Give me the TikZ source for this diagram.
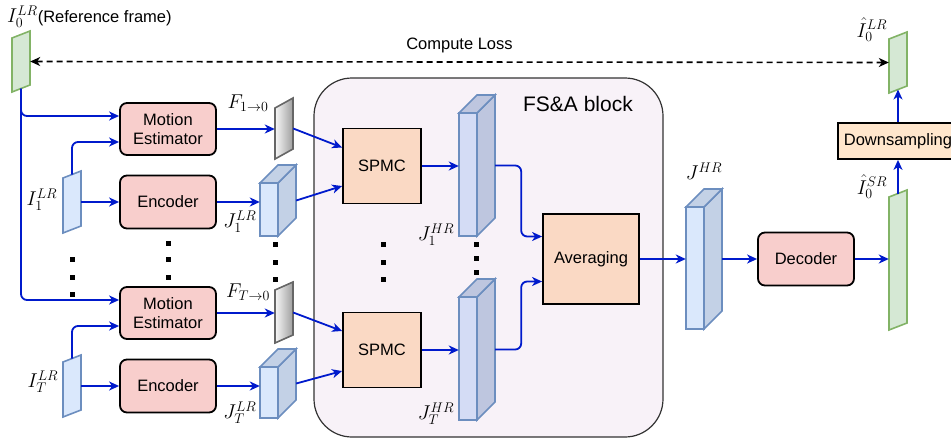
\RequirePackage{fix-cm}
\documentclass[tikz,border=0pt]{standalone}
\usepackage[no-math]{fontspec}
\setmainfont{Liberation Sans}
\usetikzlibrary{positioning, arrows.meta, calc}
\definecolor{arrblue}{RGB}{0,26,204}
\definecolor{netpink}{HTML}{F8CECC}
\definecolor{oppeach}{HTML}{FAD9C4}
\definecolor{downpeach}{HTML}{FFE6CC}
\definecolor{blockbg}{HTML}{F8F2F8}
\definecolor{greenfill}{HTML}{D5E8D4}
\definecolor{greenline}{HTML}{82B366}
\definecolor{bluefill}{HTML}{DAE8FC}
\definecolor{blueline}{HTML}{6C8EBF}
\definecolor{loside}{HTML}{C3D1E6}
\definecolor{hifront}{HTML}{D4DCF5}
\definecolor{hiside}{HTML}{BEC6DF}

\newcommand{\boxfont}{\fontsize{16.5}{19}\selectfont}
\newcommand{\lblfont}{\fontsize{20}{23}\selectfont}

% name, style, left x, top y, face height, slant
\newcommand{\slab}[6]{%
  \draw[#2] (#3,#4+#6) -- (#3+18,#4) -- (#3+18,#4+#5) -- (#3,#4+#5+#6) -- cycle;
  \node[inner sep=0, minimum width=18pt, minimum height={(#5+#6)*1pt}] (#1) at (#3+9,#4+#5/2+#6/2) {};
  \coordinate (#1-t) at (#3+9,#4+#6/2);
  \coordinate (#1-b) at (#3+9,#4+#5+#6/2);
}
% name, front colour, side colour, left x, front top y, front height
\newcommand{\cuboid}[6]{%
  \draw[cubeline, fill=#3] (#4+18,#5) -- (#4+36,#5-18) -- (#4+36,#5+#6-18) -- (#4+18,#5+#6) -- cycle;
  \draw[cubeline, fill=#3] (#4,#5) -- (#4+18,#5-18) -- (#4+36,#5-18) -- (#4+18,#5) -- cycle;
  \draw[cubeline, fill=#2] (#4,#5) rectangle (#4+18,#5+#6);
  \node[inner sep=0, minimum width=36pt, minimum height={(#6+18)*1pt}] (#1) at (#4+18,#5+#6/2-9) {};
}

\begin{document}
\begin{tikzpicture}[
  x=1pt, y=-1pt,
  netbox/.style={draw=black, fill=netpink, rounded corners=7pt, line width=1.8pt,
                 minimum width=96pt, minimum height=52pt, font=\boxfont, align=center},
  opbox/.style={draw=black, fill=oppeach, line width=1.8pt,
                minimum width=78pt, minimum height=75pt, font=\boxfont, align=center},
  greenslab/.style={draw=greenline, fill=greenfill, line width=1.6pt},
  blueslab/.style={draw=blueline, fill=bluefill, line width=1.6pt},
  flowslab/.style={draw=black!60, left color=black!3, right color=black!38, line width=1.6pt},
  cubeline/.style={draw=blueline, line width=1.6pt},
  mathlbl/.style={font=\lblfont, inner sep=1pt},
  link/.style={-{Stealth[length=10pt, width=9pt, inset=3pt]}, line width=1.8pt, draw=arrblue},
  losslink/.style={{Stealth[length=10pt, width=9pt, inset=3pt]}-{Stealth[length=10pt, width=9pt, inset=3pt]},
                   line width=1.6pt, dash pattern=on 6pt off 4pt},
]
  \useasboundingbox (0,0) rectangle (951,439);

  \draw[draw=black!80, fill=blockbg, rounded corners=38pt, line width=1.2pt] (314,78) rectangle (663,437);
  \node[font=\fontsize{21}{25}\selectfont] (lblblock) at (578,104) {FS\&A block};

  \slab{I0}{greenslab}{12}{31}{54}{7}
  \slab{I1}{blueslab}{63}{171}{55}{7}
  \slab{IT}{blueslab}{63}{355}{55}{7}
  \slab{F1}{flowslab}{275}{98}{51}{10}
  \slab{FT}{flowslab}{275}{282}{53}{8}
  \slab{ILR}{greenslab}{889}{32}{54}{7}
  \slab{ISR}{greenslab}{889}{190}{133}{7}

  \cuboid{J1LR}{bluefill}{loside}{260}{183}{53}
  \cuboid{JTLR}{bluefill}{loside}{260}{367}{51}
  \cuboid{J1HR}{hifront}{hiside}{459}{113}{123}
  \cuboid{JTHR}{hifront}{hiside}{459}{297}{123}
  \cuboid{JHR}{bluefill}{loside}{686}{207}{122}

  \node[netbox] (ME1) at (168,129) {Motion\\Estimator};
  \node[netbox, minimum height=53pt] (Enc1) at (168,202) {Encoder};
  \node[netbox] (ME2) at (168,313) {Motion\\Estimator};
  \node[netbox, minimum height=53pt] (Enc2) at (168,386) {Encoder};
  \node[opbox] (SPMC1) at (382,166) {SPMC};
  \node[opbox] (SPMC2) at (382,350) {SPMC};
  \node[opbox, minimum width=96pt, minimum height=90pt] (Avg) at (591,259) {Averaging};
  \node[netbox, minimum height=53pt] (Dec) at (806,259) {Decoder};
  \node[opbox, fill=downpeach, minimum width=120pt, minimum height=36pt] (Down) at (898,141) {Downsampling};

  \node[anchor=west, inner sep=0] (lblI0) at (7,17) {{\lblfont$I_0^{LR}$}{\boxfont(Reference frame)}};
  \node[mathlbl] (lblI1) at (42,200) {$I_1^{LR}$};
  \node[mathlbl] (lblIT) at (43,382) {$I_T^{LR}$};
  \node[mathlbl] (lblF1) at (248,103) {$F_{1\rightarrow 0}$};
  \node[mathlbl] (lblFT) at (248,292) {$F_{T\rightarrow 0}$};
  \node[mathlbl] (lblJ1LR) at (240,222) {$J_1^{LR}$};
  \node[mathlbl] (lblJTLR) at (240,413) {$J_T^{LR}$};
  \node[mathlbl] (lblJ1HR) at (436,235) {$J_1^{HR}$};
  \node[mathlbl] (lblJTHR) at (436,414) {$J_T^{HR}$};
  \node[mathlbl] (lblJHR) at (704,171) {$J^{HR}$};
  \node[mathlbl] (lblILR) at (872,30) {$\hat{I}_0^{LR}$};
  \node[mathlbl] (lblISR) at (872,187) {$\hat{I}_0^{SR}$};

  \foreach \px/\py in {72/259, 72/277, 72/294, 168/243, 168/259, 168/277,
                       275/244, 275/262, 275/279, 383/244, 383/262, 383/279,
                       476/244, 476/258, 476/272}
    \fill (\px-2.5,\py-2.5) rectangle ++(5,5);

  \draw[losslink] (I0.east) -- node[above=5pt, font=\boxfont] (lblloss) {Compute Loss} (ILR.west);

  \draw[link, rounded corners=6pt] (I0-b) |- ([yshift=13pt]ME1.west);
  \draw[link, rounded corners=6pt] (I0-b) |- ([yshift=13pt]ME2.west);
  \draw[link, rounded corners=6pt] (I1-t) |- ([yshift=-13pt]ME1.west);
  \draw[link, rounded corners=6pt] (IT-t) |- ([yshift=-13pt]ME2.west);
  \draw[link] (I1.east) -- (I1.east -| Enc1.west);
  \draw[link] (IT.east) -- (IT.east -| Enc2.west);
  \draw[link] (ME1.east) -- (ME1.east -| F1.west);
  \draw[link] (ME2.east) -- (ME2.east -| FT.west);
  \draw[link] (Enc1.east) -- (Enc1.east -| J1LR.west);
  \draw[link] (Enc2.east) -- (Enc2.east -| JTLR.west);

  \draw[link] (F1.east) -- ([yshift=18.5pt]SPMC1.west);
  \draw[link] (J1LR.east) -- ([yshift=-20pt]SPMC1.west);
  \draw[link] (FT.east) -- ([yshift=19pt]SPMC2.west);
  \draw[link] (JTLR.east) -- ([yshift=-21pt]SPMC2.west);
  \draw[link] (SPMC1.east) -- (SPMC1.east -| J1HR.west);
  \draw[link] (SPMC2.east) -- (SPMC2.east -| JTHR.west);

  \draw[link, rounded corners=6pt] (J1HR.east) -- ++(26,0) |- ([yshift=22.5pt]Avg.west);
  \draw[link, rounded corners=6pt] (JTHR.east) -- ++(26,0) |- ([yshift=-22.5pt]Avg.west);
  \draw[link] (Avg.east) -- (Avg.east -| JHR.west);
  \draw[link] (JHR.east) -- (JHR.east -| Dec.west);
  \draw[link] (Dec.east) -- (Dec.east -| ISR.west);
  \draw[link] (ISR-t) -- (Down.south);
  \draw[link] (Down.north) -- (ILR-b);
\end{tikzpicture}
\end{document}
